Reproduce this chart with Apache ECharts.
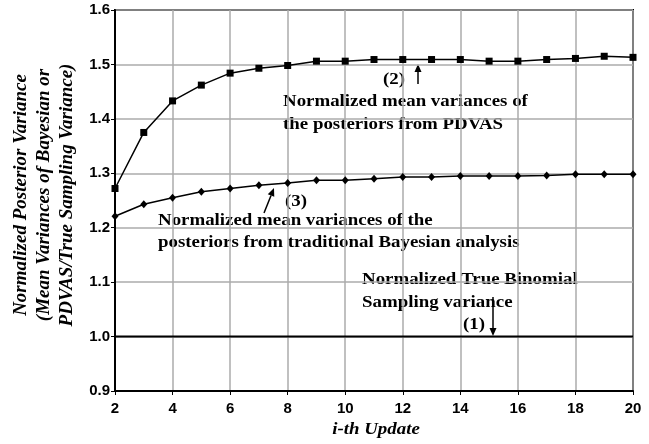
<!DOCTYPE html>
<html>
<head>
<meta charset="utf-8">
<script src="https://cdn.jsdelivr.net/npm/echarts@6/dist/echarts.min.js"></script>
<style>
  html, body { margin: 0; padding: 0; background: #fff; }
  #chart { width: 649px; height: 444px; }
</style>
</head>
<body>
<div id="chart"></div>
<script>
// Update index (x axis)
const updates = [2, 3, 4, 5, 6, 7, 8, 9, 10, 11, 12, 13, 14, 15, 16, 17, 18, 19, 20];

// (2) Normalized mean variances of the posteriors from PDVAS
const pdvas = [1.272, 1.375, 1.433, 1.462, 1.484, 1.493, 1.498, 1.506, 1.506, 1.509,
               1.509, 1.509, 1.509, 1.506, 1.506, 1.509, 1.511, 1.515, 1.513];

// (3) Normalized mean variances of the posteriors from traditional Bayesian analysis
const bayes = [1.221, 1.243, 1.255, 1.266, 1.272, 1.278, 1.282, 1.287, 1.287, 1.290,
               1.293, 1.293, 1.295, 1.295, 1.295, 1.296, 1.298, 1.298, 1.298];

// (1) Normalized true binomial sampling variance
const trueVar = [1, 1, 1, 1, 1, 1, 1, 1, 1, 1, 1, 1, 1, 1, 1, 1, 1, 1, 1];

const yTickLabels = ['0.9', '1.0', '1.1', '1.2', '1.3', '1.4', '1.5', '1.6'];

const pair = (xs, ys) => xs.map((x, i) => [x, ys[i]]);

const SERIF_B = 'bold 16px "Liberation Serif", "Times New Roman", serif';
const SERIF_BI = 'italic bold 16px "Liberation Serif", "Times New Roman", serif';
const SX = 1.18;

// Annotation text, slightly widened; scaling is about the text's own anchor
function label(x, y, text) {
  return {
    type: 'text', x: x, y: y, scaleX: SX,
    style: { text: text, font: SERIF_B, fill: '#000', textVerticalAlign: 'middle' }
  };
}

function arrow(x1, y1, x2, y2) {
  const ang = Math.atan2(y2 - y1, x2 - x1);
  const len = 8, half = 3.5;
  const bx = x2 - len * Math.cos(ang), by = y2 - len * Math.sin(ang);
  const px = -Math.sin(ang) * half, py = Math.cos(ang) * half;
  return [
    { type: 'line', shape: { x1: x1, y1: y1, x2: bx, y2: by }, style: { stroke: '#000', lineWidth: 1.5 } },
    { type: 'polygon', shape: { points: [[x2, y2], [bx + px, by + py], [bx - px, by - py]] }, style: { fill: '#000' } }
  ];
}

const chart = echarts.init(document.getElementById('chart'), null, { renderer: 'canvas' });

const option = {
  backgroundColor: '#fff',
  animation: false,
  grid: {
    left: 115, right: 16, top: 10, bottom: 53,
    show: true, borderColor: '#000', borderWidth: 2, containLabel: false
  },
  xAxis: {
    type: 'value', min: 2, max: 20, interval: 2,
    axisLine: { show: true, onZero: false, lineStyle: { color: '#000', width: 2 } },
    axisTick: { show: true, length: 4, lineStyle: { color: '#000', width: 1 } },
    axisLabel: { color: '#000', fontFamily: '"Liberation Sans", Arial, sans-serif', fontWeight: 'bold', fontSize: 15, margin: 10 },
    splitLine: { show: true, lineStyle: { color: '#ababab', width: 1.5 } }
  },
  yAxis: {
    type: 'value', min: 0.9, max: 1.6, interval: 0.1,
    axisLine: { show: true, onZero: false, lineStyle: { color: '#000', width: 2 } },
    axisTick: { show: true, length: 4, lineStyle: { color: '#000', width: 1 } },
    axisLabel: {
      color: '#000', fontFamily: '"Liberation Sans", Arial, sans-serif', fontWeight: 'bold', fontSize: 15, margin: 5,
      formatter: (v) => yTickLabels[Math.round((v - 0.9) * 10)] || ''
    },
    splitLine: { show: true, lineStyle: { color: '#ababab', width: 1.5 } }
  },
  series: [
    {
      name: 'True', type: 'line', data: pair(updates, trueVar), showSymbol: false,
      lineStyle: { color: '#000', width: 2 }, z: 3
    },
    {
      name: 'PDVAS', type: 'line', data: pair(updates, pdvas),
      symbol: 'rect', symbolSize: 7, itemStyle: { color: '#000' },
      lineStyle: { color: '#000', width: 1.5 }, z: 4
    },
    {
      name: 'Bayesian', type: 'line', data: pair(updates, bayes),
      symbol: 'diamond', symbolSize: [7, 8], itemStyle: { color: '#000' },
      lineStyle: { color: '#000', width: 1.5 }, z: 4
    }
  ],
  graphic: [
    // y-axis title, three lines reading bottom to top
    {
      type: 'text', x: 44, y: 195, rotation: Math.PI / 2,
      style: {
        text: 'Normalized Posterior Variance\n(Mean Variances of Bayesian or\nPDVAS/True Sampling Variance)',
        font: 'italic bold 19px "Liberation Serif", "Times New Roman", serif',
        fill: '#000', textAlign: 'center', textVerticalAlign: 'middle', lineHeight: 23
      }
    },
    // x-axis title
    {
      type: 'text', x: 376, y: 430, scaleX: SX,
      style: { text: 'i-th Update', font: SERIF_BI, fill: '#000', textAlign: 'center', textVerticalAlign: 'middle' }
    },
    label(383, 80, '(2)'),
    label(283, 102, 'Normalized mean variances of'),
    label(283, 125, 'the posteriors from PDVAS'),
    ...arrow(418, 84, 418, 64),
    label(285, 202, '(3)'),
    label(158, 221, 'Normalized mean variances of the'),
    label(158, 243, 'posteriors from traditional Bayesian analysis'),
    ...arrow(264, 213, 274, 188),
    label(362, 280, 'Normalized True Binomial'),
    label(362, 303, 'Sampling variance'),
    label(463, 325, '(1)'),
    ...arrow(493, 297, 493, 336)
  ]
};

chart.setOption(option);
</script>
</body>
</html>
